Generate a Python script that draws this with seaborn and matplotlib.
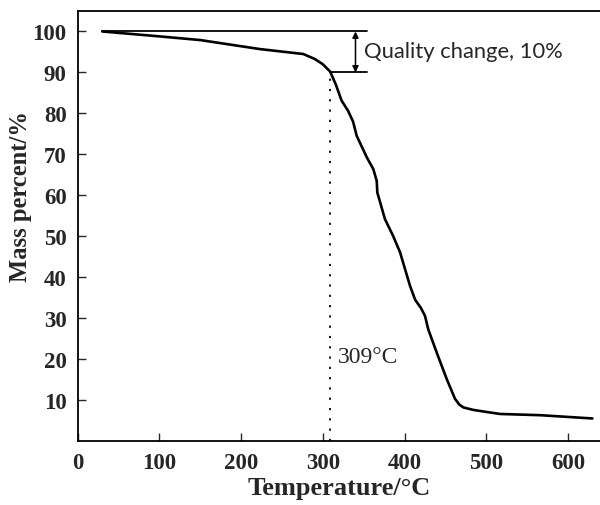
import matplotlib
matplotlib.use("Agg")
import matplotlib.pyplot as plt
import seaborn as sns
import pandas as pd

# Thermogravimetric curve
temperature = [30, 100, 150, 223, 276, 290, 300, 309, 316, 323, 331, 337, 341.5,
               354, 361.8, 366, 366.7, 376, 386, 394.5, 406.7, 413, 420, 425,
               429, 439.4, 451.7, 461.8, 467, 472, 484, 500, 517, 566, 630]
mass_percent = [100, 98.8, 97.9, 95.7, 94.5, 93.3, 92.0, 90.2, 87, 83.1, 80.6,
                78.0, 74.5, 69.2, 66.4, 63.5, 60.7, 54.2, 50.1, 46.1, 37.9,
                34.5, 32.5, 30.6, 27.3, 21.6, 15.1, 10.3, 8.9, 8.2, 7.6, 7.1,
                6.6, 6.3, 5.5]

x_ticks = [0, 100, 200, 300, 400, 500, 600]
y_ticks = [10, 20, 30, 40, 50, 60, 70, 80, 90, 100]

onset_temp = 309
start_mass = 100
onset_mass = 90
marker_end_temp = 354
arrow_temp = 340

sns.set_style("ticks")
plt.rcParams["font.family"] = ["Liberation Serif", "DejaVu Serif"]

df = pd.DataFrame({"Temperature": temperature, "Mass": mass_percent})

fig = plt.figure(figsize=(6.0, 5.06), dpi=100)
ax = fig.add_axes([0.1295, 0.1265, 0.8715, 0.8498])

sns.lineplot(data=df, x="Temperature", y="Mass", ax=ax, color="black",
             linewidth=1.9, sort=False)

# 10% mass-loss marker
ax.plot([temperature[0], marker_end_temp], [start_mass, start_mass],
        color="black", linewidth=1.3)
ax.plot([onset_temp, marker_end_temp], [onset_mass, onset_mass],
        color="black", linewidth=1.3)
ax.annotate("", xy=(arrow_temp, start_mass), xytext=(arrow_temp, onset_mass),
            arrowprops=dict(arrowstyle="<|-|>", color="black", lw=1.1,
                            mutation_scale=9, shrinkA=0, shrinkB=0))
ax.text(350, 95.3, "Quality change, 10%", fontsize=15.8,
        family=["Lato", "DejaVu Sans"], va="center", ha="left")

# onset temperature
ax.plot([onset_temp, onset_temp], [0, onset_mass], color="black",
        linewidth=1.3, linestyle=(0, (1.2, 4.5)))
ax.text(319, 20.7, "309\u00b0C", fontsize=17, va="center", ha="left")

ax.set_xlim(0, 640)
ax.set_ylim(0, 105)
ax.set_xticks(x_ticks)
ax.set_yticks(y_ticks)
ax.tick_params(direction="in", length=6, width=1.0, labelsize=16.5, pad=8)
for lab in ax.get_xticklabels() + ax.get_yticklabels():
    lab.set_fontweight("bold")
for side in ["left", "bottom", "top", "right"]:
    ax.spines[side].set_linewidth(1.3)
    ax.spines[side].set_color("black")

ax.set_xlabel("Temperature/\u00b0C", fontsize=19, fontweight="bold", labelpad=2)
ax.set_ylabel("Mass percent/%", fontsize=17.7, fontweight="bold")
ax.yaxis.set_label_coords(-0.0874, 0.57)

fig.savefig("out.png", dpi=100)
